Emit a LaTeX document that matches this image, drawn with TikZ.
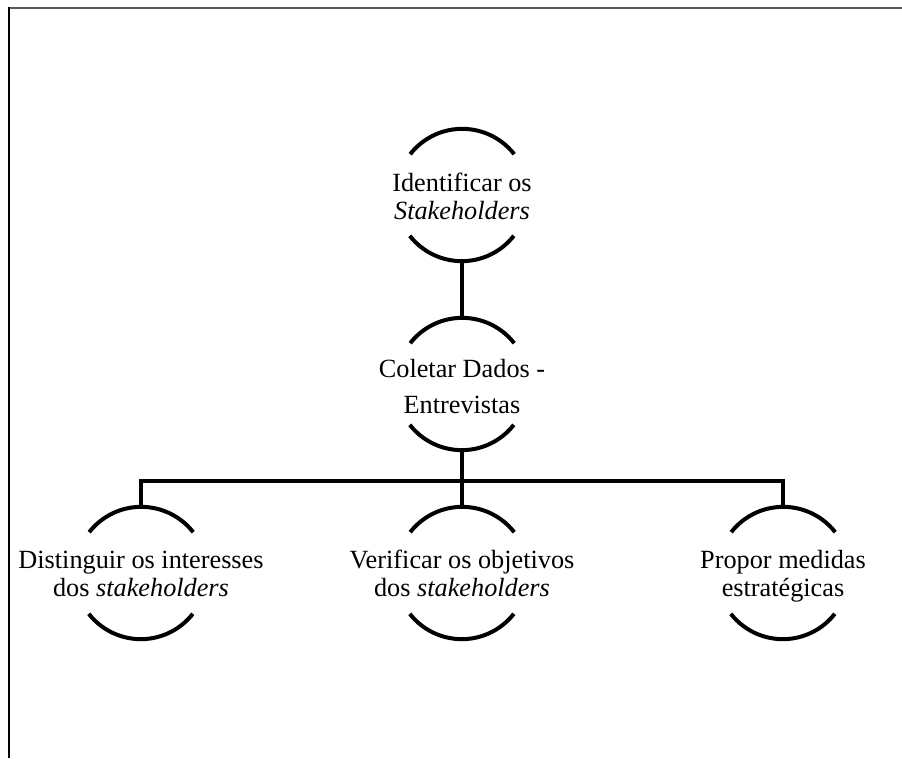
\documentclass[tikz,border=0pt]{standalone}
\usepackage{fontspec}
\setmainfont{Liberation Serif}
\begin{document}
\begin{tikzpicture}[x=0.75pt,y=0.75pt,
  stage/.style={circle, draw=none, inner sep=0pt, minimum size=99pt},
  rim/.style={draw=black, line width=3pt},
  link/.style={draw=black, line width=3pt},
  caption/.style={align=center, anchor=base, inner sep=0pt,
    font=\fontsize{19.7}{21}\selectfont},
  widecaption/.style={caption, font=\fontsize{19.7}{27}\selectfont}]
  \useasboundingbox (0,0) rectangle (902,758);

  % frame edges
  \draw[draw=black!65, line width=1pt] (8,750) -- (902,750);
  \draw[draw=black, line width=1.5pt] (8.7,750.5) -- (8.7,0);

  % stages
  \node[stage] (s1) at (462,563) {};
  \node[stage] (s2) at (462,374) {};
  \node[stage] (s3) at (141,185) {};
  \node[stage] (s4) at (462,185) {};
  \node[stage] (s5) at (783,185) {};

  \foreach \s in {s1,s2,s3,s4,s5}{
    \draw[rim] (\s.38) arc[start angle=38, end angle=142, radius=49.5pt];
    \draw[rim] (\s.218) arc[start angle=218, end angle=322, radius=49.5pt];
  }

  % labels (base anchor sits on the last line)
  \node[caption] (t1) at (462,538) {Identificar os\\\textit{Stakeholders}};
  \node[widecaption] (t2) at (462,345) {Coletar Dados -\\Entrevistas};
  \node[caption] (t3) at (141,162) {Distinguir os interesses\\dos \textit{stakeholders}};
  \node[caption] (t4) at (462,162) {Verificar os objetivos\\dos \textit{stakeholders}};
  \node[caption] (t5) at (783,162) {Propor medidas\\estratégicas};

  % connectors
  \coordinate (bus) at (462,277);
  \draw[link] (s1.south) -- (s2.north);
  \draw[link] (s2.south) -- (s4.north);
  \draw[link] (s3.north) |- (bus) -| (s5.north);
\end{tikzpicture}
\end{document}
